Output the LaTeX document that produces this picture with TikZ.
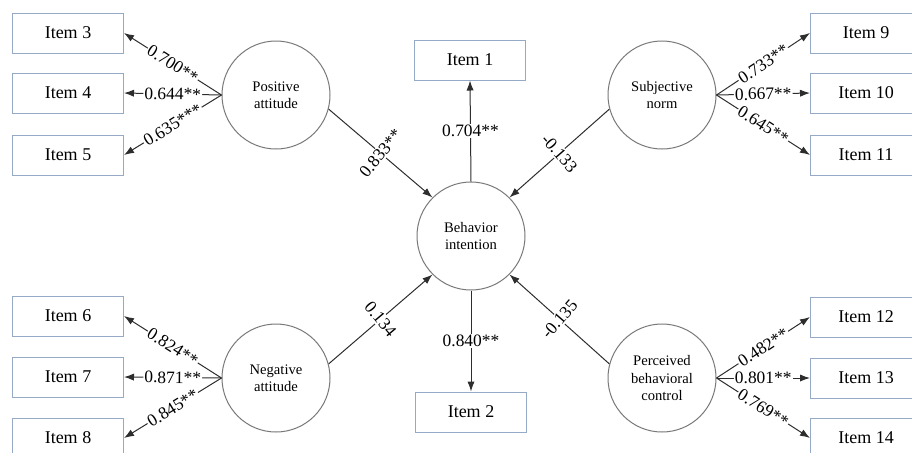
\documentclass[tikz,border=0pt]{standalone}
\usepackage{fontspec}
\setmainfont{Liberation Serif}
\usetikzlibrary{arrows.meta}
\definecolor{boxline}{RGB}{150,170,200}
\definecolor{circline}{RGB}{120,120,120}
\definecolor{pathline}{RGB}{45,45,45}

\begin{document}
\begin{tikzpicture}[x=0.5pt, y=-0.5pt,
    item/.style={draw=boxline, line width=0.5pt, minimum width=55.5pt, minimum height=20pt, inner sep=0pt, font=\fontsize{9}{10}\selectfont},
    latent/.style={circle, draw=circline, line width=0.5pt, minimum size=54pt, inner sep=0pt, align=center, font=\fontsize{7.3}{8.6}\selectfont},
    load/.style={draw=pathline, line width=0.5pt, -{Latex[length=5pt,width=3.6pt]}},
    coef/.style={fill=white, inner sep=0.6pt, font=\fontsize{8.7}{10}\selectfont}]
        \useasboundingbox (0,0) rectangle (912,452);
        \clip (0,0) rectangle (912,452);

        % Latent variables
        \node[latent] (pa) at (276,95) {Positive\\attitude};
        \node[latent] (na) at (276,378) {Negative\\attitude};
        \node[latent] (sn) at (662,95) {Subjective\\norm};
        \node[latent] (pbc) at (662,378) {Perceived\\behavioral\\control};
        \node[latent] (bi) at (471,236) {Behavior\\intention};

        % Items
        \node[item] (i1) at (470,60) {Item 1};
        \node[item] (i2) at (471,412) {Item 2};
        \node[item] (i3) at (68,33) {Item 3};
        \node[item] (i4) at (68,93) {Item 4};
        \node[item] (i5) at (68,155) {Item 5};
        \node[item] (i6) at (68,316) {Item 6};
        \node[item] (i7) at (68,377) {Item 7};
        \node[item] (i8) at (68,438) {Item 8};
        \node[item] (i9) at (866,33) {Item 9};
        \node[item] (i10) at (866,93) {Item 10};
        \node[item] (i11) at (866,155) {Item 11};
        \node[item] (i12) at (866,317) {Item 12};
        \node[item] (i13) at (866,378) {Item 13};
        \node[item] (i14) at (866,438) {Item 14};

        % Structural paths
        \draw[load] (pa.-15) -- node[coef, rotate=51] {0.833**} (bi.135);
        \draw[load] (sn.195) -- node[coef, rotate=-49] {-0.133} (bi.45);
        \draw[load] (na.15) -- node[coef, rotate=-50] {0.134} (bi.225);
        \draw[load] (pbc.165) -- node[coef, rotate=49] {-0.135} (bi.-45);

        % Loadings
        \draw[load] (bi.north) -- node[coef] {0.704**} (i1.south);
        \draw[load] (bi.south) -- node[coef] {0.840**} (i2.north);
        \draw[load] (pa.west) -- node[coef, sloped] {0.700**} (i3.east);
        \draw[load] (pa.west) -- node[coef, sloped] {0.644**} (i4.east);
        \draw[load] (pa.west) -- node[coef, sloped] {0.635***} (i5.east);
        \draw[load] (na.west) -- node[coef, sloped] {0.824**} (i6.east);
        \draw[load] (na.west) -- node[coef, sloped] {0.871**} (i7.east);
        \draw[load] (na.west) -- node[coef, sloped] {0.845**} (i8.east);
        \draw[load] (sn.east) -- node[coef, sloped] {0.733**} (i9.west);
        \draw[load] (sn.east) -- node[coef, sloped] {0.667**} (i10.west);
        \draw[load] (sn.east) -- node[coef, sloped] {0.645**} (i11.west);
        \draw[load] (pbc.east) -- node[coef, sloped] {0.482**} (i12.west);
        \draw[load] (pbc.east) -- node[coef, sloped] {0.801**} (i13.west);
        \draw[load] (pbc.east) -- node[coef, sloped] {0.769**} (i14.west);
    \end{tikzpicture}
\end{document}
